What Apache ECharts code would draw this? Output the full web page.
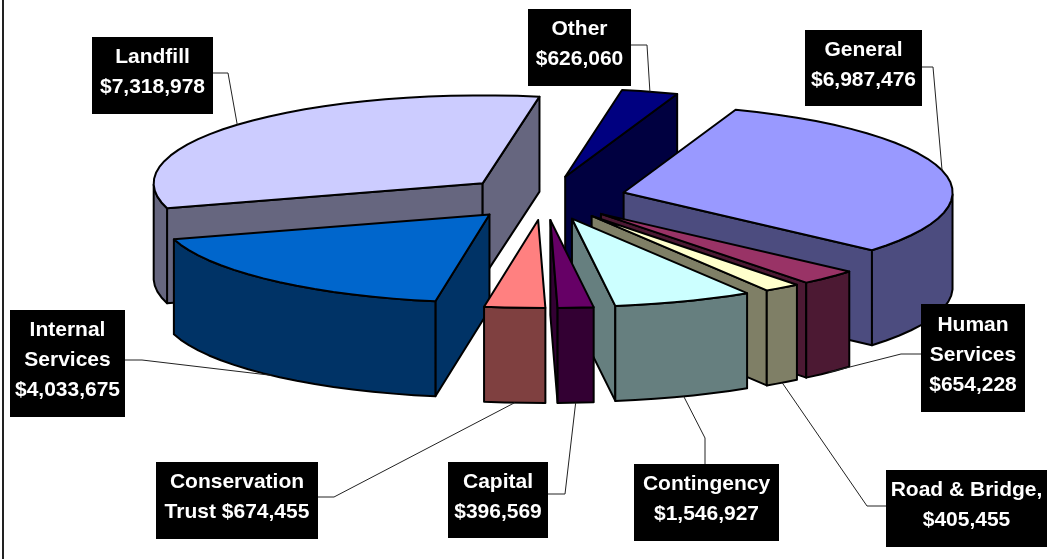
<!DOCTYPE html>
<html>
<head>
<meta charset="utf-8">
<script src="https://cdn.jsdelivr.net/npm/echarts@6/dist/echarts.min.js"></script>
<style>html,body{margin:0;padding:0;background:#fff}#chart{width:1047px;height:559px}</style>
</head>
<body>
<div id="chart"></div>
<script>
// Budget by fund, clockwise starting from the General wedge.
const funds = ['General', 'Human Services', 'Road & Bridge', 'Contingency', 'Capital',
  'Conservation Trust', 'Internal Services', 'Landfill', 'Other'];
const amounts = [6987476, 654228, 405455, 1546927, 396569, 674455, 4033675, 7318978, 626060];
const captions = ['General\n', 'Human\nServices\n', 'Road & Bridge,\n', 'Contingency\n', 'Capital\n',
  'Conservation\nTrust ', 'Internal\nServices\n', 'Landfill\n', 'Other\n'];
const topColors = ['#9999FF', '#993366', '#FFFFCC', '#CCFFFF', '#660066',
  '#FF8080', '#0066CC', '#CCCCFF', '#000080'];

// Clockwise angle (degrees from twelve o'clock) at which the first wedge begins.
const firstAngle = 19.9;

// Pie projection, in page pixels.
const pie = { cx: 544, cy: 198, rx: 329, ry: 88, depth: 95, explode: 0.25 };

// Callout boxes [left, top, right, bottom] and the elbow of each leader line.
const boxes = [
  [805, 30, 922, 106], [921, 304, 1025, 412], [886, 470, 1047, 547], [634, 464, 779, 541],
  [448, 462, 548, 538], [156, 462, 318, 539], [10, 310, 125, 417], [92, 37, 213, 114], [528, 9, 631, 86]
];
const leaders = [
  [[922, 67], [933, 67]], [[921, 354], [901, 354]], [[886, 506], [867, 506]], [[705, 464], [705, 438]],
  [[548, 494], [565, 494]], [[318, 497], [334, 497]], [[125, 360], [142, 360]], [[213, 73], [228, 73]], [[631, 45], [647, 45]]
];

const total = amounts.reduce((a, b) => a + b, 0);
let running = firstAngle;
const wedges = amounts.map((v, i) => {
  const start = running;
  const end = start + v / total * 360;
  running = end;
  return { i, start, end, mid: (start + end) / 2 };
});
const rad = d => d * Math.PI / 180;
const tipOf = w => [
  pie.cx + pie.explode * pie.rx * Math.sin(rad(w.mid)),
  pie.cy - pie.explode * pie.ry * Math.cos(rad(w.mid))
];
const rimOf = (w, a) => {
  const t = tipOf(w);
  return [t[0] + pie.rx * Math.sin(rad(a)), t[1] - pie.ry * Math.cos(rad(a))];
};
function shade(hex) {
  const n = parseInt(hex.slice(1), 16);
  const c = s => ((n >> s & 255) >> 1);
  return 'rgb(' + c(16) + ',' + c(8) + ',' + c(0) + ')';
}
// Wedges are painted from the back of the pie to the front.
const paintOrder = wedges.slice().sort((a, b) => -Math.cos(rad(a.mid)) - -Math.cos(rad(b.mid)));

const edgeStyle = { stroke: '#000', lineWidth: 2, lineJoin: 'round' };

function renderWedge(params, api) {
  const w = wedges[api.value(0)];
  const px = p => api.coord(p);
  const tip = tipOf(w);
  const rim = [];
  const steps = Math.max(3, Math.ceil((w.end - w.start) / 4));
  for (let s = 0; s <= steps; s++) rim.push(rimOf(w, w.start + (w.end - w.start) * s / steps));
  const outline = [tip].concat(rim);
  const wallFill = shade(topColors[w.i]);
  const children = [];
  const wall = pts => {
    const down = pts.slice().reverse().map(p => [p[0], p[1] + pie.depth]);
    children.push({
      type: 'polygon',
      shape: { points: pts.concat(down).map(px) },
      style: Object.assign({ fill: wallFill }, edgeStyle)
    });
  };
  // Only faces turned toward the viewer get drawn: going clockwise, those run leftward.
  if (rim[0][0] < tip[0]) wall([tip, rim[0]]);
  if (rim[steps][0] > tip[0]) wall([rim[steps], tip]);
  let run = [];
  for (let s = 0; s < steps; s++) {
    if (rim[s + 1][0] < rim[s][0]) {
      if (!run.length) run.push(rim[s]);
      run.push(rim[s + 1]);
    } else if (run.length) { wall(run); run = []; }
  }
  if (run.length) wall(run);
  children.push({
    type: 'polygon',
    shape: { points: outline.map(px) },
    style: Object.assign({ fill: topColors[w.i] }, edgeStyle)
  });
  return { type: 'group', children };
}

function renderCallout(params, api) {
  const i = api.value(0);
  const w = wedges[i];
  const b = boxes[i];
  const tl = api.coord([b[0], b[1]]);
  const br = api.coord([b[2], b[3]]);
  const rim = rimOf(w, w.mid);
  const anchor = Math.cos(rad(w.mid)) < 0 ? [rim[0], rim[1] + pie.depth] : rim;
  return {
    type: 'group',
    children: [
      {
        type: 'polyline',
        shape: { points: leaders[i].concat([anchor]).map(p => api.coord(p)) },
        style: { stroke: '#222', lineWidth: 1, fill: null }
      },
      {
        type: 'rect',
        shape: { x: tl[0], y: tl[1], width: br[0] - tl[0], height: br[1] - tl[1] },
        style: { fill: '#000' }
      },
      {
        type: 'text',
        x: (tl[0] + br[0]) / 2,
        y: (tl[1] + br[1]) / 2 - 3,
        style: {
          text: captions[i] + '$' + amounts[i].toLocaleString('en-US'),
          fill: '#fff',
          font: 'bold 21px "Liberation Sans", Arial, sans-serif',
          lineHeight: 30,
          align: 'center',
          verticalAlign: 'middle'
        }
      }
    ]
  };
}

const chart = echarts.init(document.getElementById('chart'), null, { renderer: 'canvas' });
chart.setOption({
  animation: false,
  backgroundColor: '#fff',
  grid: { left: 0, right: 0, top: 0, bottom: 0 },
  xAxis: { type: 'value', min: 0, max: 1047, show: false },
  yAxis: { type: 'value', min: 0, max: 559, inverse: true, show: false },
  graphic: [{
    type: 'line',
    shape: { x1: 3, y1: 0, x2: 3, y2: 559 },
    style: { stroke: '#222', lineWidth: 2 }
  }],
  series: [
    {
      type: 'custom',
      name: 'Funds',
      clip: false,
      renderItem: renderWedge,
      encode: { x: 1, y: 2 },
      data: paintOrder.map(w => ({ name: funds[w.i], value: [w.i, pie.cx, pie.cy] })),
      z: 2
    },
    {
      type: 'custom',
      name: 'Callouts',
      clip: false,
      renderItem: renderCallout,
      encode: { x: 1, y: 2 },
      data: funds.map((f, i) => ({ name: f, value: [i, pie.cx, pie.cy] })),
      z: 3
    }
  ]
});
</script>
</body>
</html>
